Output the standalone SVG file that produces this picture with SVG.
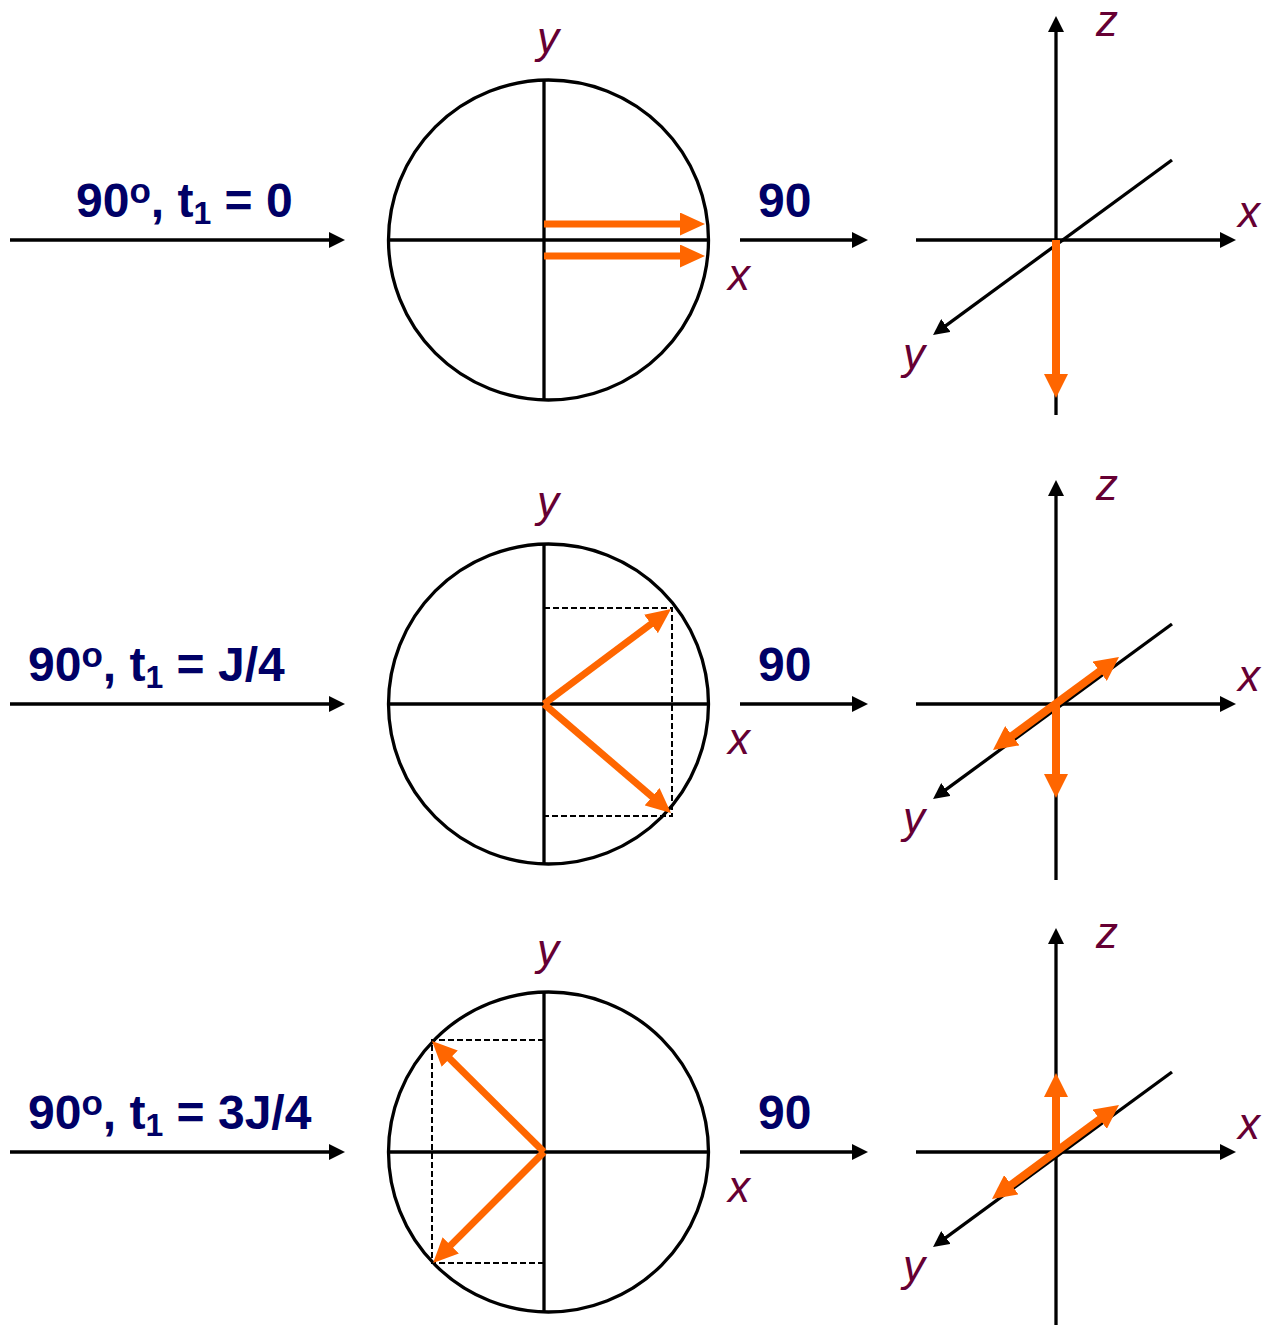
<svg xmlns="http://www.w3.org/2000/svg" width="1266" height="1325" viewBox="0 0 1266 1325">
<defs>
<marker id="ah" markerUnits="userSpaceOnUse" markerWidth="16" markerHeight="16" refX="6" refY="8" orient="auto" viewBox="0 0 16 16"><path d="M0,0 L16,8 L0,16 z" fill="#000"/></marker>
<marker id="oh" markerUnits="userSpaceOnUse" markerWidth="24" markerHeight="24" refX="2" refY="12" orient="auto-start-reverse" viewBox="0 0 24 24"><path d="M0,0 L24,12 L0,24 z" fill="#FF6600"/></marker>
<marker id="oh2" markerUnits="userSpaceOnUse" markerWidth="25" markerHeight="23" refX="3" refY="11.5" orient="auto" viewBox="0 0 25 23"><path d="M0,0 L25,11.5 L0,23 z" fill="#FF6600"/></marker>
</defs>
<style>
.ax{stroke:#000;stroke-width:3.3;fill:none}
.arr{stroke:#000;stroke-width:3.3;fill:none;marker-end:url(#ah)}
.circ{stroke:#000;stroke-width:3.3;fill:none}
.dash{stroke:#000;stroke-width:2;fill:none;stroke-dasharray:6,3}
.or{stroke:#FF6600;stroke-width:7;fill:none;marker-end:url(#oh2)}
.o3{stroke:#FF6600;stroke-width:8;fill:none;marker-end:url(#oh)}
.o3d{stroke:#FF6600;stroke-width:8;fill:none;marker-end:url(#oh);marker-start:url(#oh)}
.lbl{font-family:"Liberation Sans",Arial,sans-serif;font-weight:bold;font-size:48px;fill:#000066}
.ax-l{font-family:"Liberation Sans",Arial,sans-serif;font-style:italic;font-size:44px;fill:#660033}
</style>

<g id="connectors">
<line class="arr" x1="10" y1="240" x2="335" y2="240"/>
<line class="arr" x1="740" y1="240" x2="858" y2="240"/>
<line class="arr" x1="10" y1="704" x2="335" y2="704"/>
<line class="arr" x1="740" y1="704" x2="858" y2="704"/>
<line class="arr" x1="10" y1="1152" x2="335" y2="1152"/>
<line class="arr" x1="740" y1="1152" x2="858" y2="1152"/>
</g>

<g id="label-1">
<text class="lbl" x="76" y="217">90<tspan font-size="35" dy="-14">o</tspan><tspan dy="14">, t</tspan><tspan font-size="32" dy="7">1</tspan><tspan dy="-7"> = 0</tspan></text>
<text class="lbl" x="758" y="217">90</text>
</g>
<g id="label-2">
<text class="lbl" x="28" y="681">90<tspan font-size="35" dy="-14">o</tspan><tspan dy="14">, t</tspan><tspan font-size="32" dy="7">1</tspan><tspan dy="-7"> = J/4</tspan></text>
<text class="lbl" x="758" y="681">90</text>
</g>
<g id="label-3">
<text class="lbl" x="28" y="1129">90<tspan font-size="35" dy="-14">o</tspan><tspan dy="14">, t</tspan><tspan font-size="32" dy="7">1</tspan><tspan dy="-7"> = 3J/4</tspan></text>
<text class="lbl" x="758" y="1129">90</text>
</g>

<g id="circle-1">
<circle class="circ" cx="548.5" cy="240" r="160"/>
<line class="ax" x1="544" y1="80" x2="544" y2="400"/>
<line class="ax" x1="388" y1="240" x2="709" y2="240"/>
<line class="or" x1="544" y1="224" x2="683" y2="224"/>
<line class="or" x1="544" y1="256" x2="683" y2="256"/>
<text class="ax-l" x="537" y="53">y</text>
<text class="ax-l" x="728" y="290">x</text>
</g>

<g id="circle-2">
<circle class="circ" cx="548.5" cy="704" r="160"/>
<line class="ax" x1="544" y1="544" x2="544" y2="864"/>
<line class="ax" x1="388" y1="704" x2="709" y2="704"/>
<path class="dash" d="M544,608 H672 V816 H544"/>
<line class="or" x1="544" y1="704" x2="653.4" y2="622.2"/>
<line class="or" x1="544" y1="704" x2="654.3" y2="798.7"/>
<text class="ax-l" x="537" y="517">y</text>
<text class="ax-l" x="728" y="754">x</text>
</g>

<g id="circle-3">
<circle class="circ" cx="548.5" cy="1152" r="160"/>
<line class="ax" x1="544" y1="992" x2="544" y2="1312"/>
<line class="ax" x1="388" y1="1152" x2="709" y2="1152"/>
<path class="dash" d="M544,1040 H432 V1263 H544"/>
<line class="or" x1="544" y1="1152" x2="447.6" y2="1056.5"/>
<line class="or" x1="544" y1="1152" x2="448.6" y2="1247.4"/>
<text class="ax-l" x="537" y="965">y</text>
<text class="ax-l" x="728" y="1202">x</text>
</g>

<g id="axes-1">
<line class="arr" x1="1056" y1="415" x2="1056" y2="26"/>
<line class="arr" x1="916" y1="240" x2="1226" y2="240"/>
<line class="arr" x1="1172" y1="160" x2="941.1" y2="329.1"/>
<line class="o3" x1="1056" y1="240" x2="1056" y2="376"/>
<text class="ax-l" x="1096" y="36">z</text>
<text class="ax-l" x="1238" y="227">x</text>
<text class="ax-l" x="903" y="369">y</text>
</g>

<g id="axes-2">
<line class="arr" x1="1056" y1="880" x2="1056" y2="490"/>
<line class="arr" x1="916" y1="704" x2="1226" y2="704"/>
<line class="arr" x1="1172" y1="624" x2="941.1" y2="793.1"/>
<line class="o3" x1="1056" y1="704" x2="1056" y2="776"/>
<line class="o3d" x1="1010.7" y1="736.9" x2="1101.3" y2="670.1"/>
<text class="ax-l" x="1096" y="500">z</text>
<text class="ax-l" x="1238" y="691">x</text>
<text class="ax-l" x="903" y="833">y</text>
</g>

<g id="axes-3">
<line class="arr" x1="1056" y1="1325" x2="1056" y2="938"/>
<line class="arr" x1="916" y1="1152" x2="1226" y2="1152"/>
<line class="arr" x1="1172" y1="1072" x2="941.1" y2="1241.1"/>
<line class="o3" x1="1056" y1="1152" x2="1056" y2="1095"/>
<line class="o3d" x1="1009.7" y1="1185.9" x2="1101.3" y2="1118.1"/>
<text class="ax-l" x="1096" y="948">z</text>
<text class="ax-l" x="1238" y="1139">x</text>
<text class="ax-l" x="903" y="1281">y</text>
</g>
</svg>
